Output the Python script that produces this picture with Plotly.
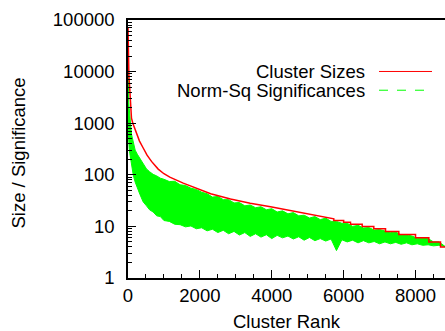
import plotly.graph_objects as go

# ---- data ----
size_rank = [1, 3, 10, 25, 42, 55, 70, 97, 134, 237, 320, 423, 530, 654, 840, 1000,
             1163, 1536, 1859, 2300, 2852, 3400, 3966, 4600, 5356, 5600, 5726,
             5726, 6000, 6000, 6191, 6191, 6516, 6516, 6839, 6839, 7165, 7165,
             7535, 7535, 8000, 8000, 8370, 8370, 8695, 8695, 8834]
cluster_sizes = [70000, 30000, 14000, 8000, 5500, 3500, 2000, 1250, 1000, 646, 450, 331,
                 240, 182, 129, 105, 90, 69, 57, 43, 34, 28, 24, 19.7, 15.6, 14.5, 14,
                 13, 13, 12, 12, 11, 11, 10, 10, 9, 9, 8, 8, 7, 7, 6, 6, 5, 5, 4, 4]

sig_rank = [0, 2, 5, 10, 20, 35, 50, 70, 100, 145, 200, 260, 330, 420, 515, 600, 700,
            800, 900, 1000, 1150, 1300, 1450, 1600, 1750, 1900, 2050, 2200, 2350, 2500,
            2650, 2800, 2950, 3100, 3250, 3400, 3550, 3700, 3850, 4000, 4150, 4300,
            4450, 4600, 4750, 4900, 5050, 5200, 5350, 5500, 5650, 5800, 5950, 6100,
            6250, 6400, 6550, 6700, 6850, 7000, 7150, 7300, 7450, 7600, 7750, 7900,
            8050, 8200, 8350, 8500, 8650, 8800, 8834]
sig_upper = [20000, 9000, 5000, 3500, 2500, 1900, 1580, 1000, 600, 413, 300, 250, 205,
             160, 130, 115, 102, 95, 86, 82, 74, 75, 64, 62, 55, 52, 46, 43, 37, 38, 33,
             33, 28.5, 29, 25, 26, 23, 24, 21, 22, 19, 20, 17.5, 18.5, 16, 16.5, 14.5,
             15.5, 13.5, 14.5, 12.5, 12.5, 11.5, 11.5, 10, 10.5, 9.3, 9.5, 8.5, 8.7, 8,
             7.6, 7.8, 6.8, 6.9, 6.5, 5.9, 5.9, 5.8, 5, 5, 4.2, 4]
sig_lower = [1000, 900, 700, 550, 420, 320, 260, 200, 145, 100, 72, 55, 42, 30, 25, 21,
             19, 16, 15.5, 13, 12.5, 11, 10.8, 9.8, 10.2, 9, 9.4, 8.2, 8.8, 7.6, 8.4,
             7.2, 8, 6.8, 7.6, 6.4, 7.2, 6.2, 6.9, 5.8, 6.7, 6, 6.5, 5.7, 6.3, 5.4, 6.1,
             5.3, 5.8, 5.2, 5.7, 3.4, 5.5, 5, 5.4, 4.8, 5.3, 4.8, 5.1, 4.6, 5, 4.6, 4.9,
             4.5, 4.8, 4.4, 4.6, 4.3, 4.4, 4.2, 4.3, 4.1, 4.0]

x_ticks = [0, 2000, 4000, 6000, 8000]
y_ticks = [1, 10, 100, 1000, 10000, 100000]
y_ticktext = ["1", "10", "100", "1000", "10000", "100000"]

FONT = "Liberation Sans, Arial, Helvetica, sans-serif"
FS = 18.5
GREEN = "#00ff00"
RED = "#ff0000"

fig = go.Figure()

# green band (norm-sq significances): polygon upper edge then lower edge back
fig.add_trace(go.Scatter(
    x=sig_rank + sig_rank[::-1],
    y=sig_upper + sig_lower[::-1],
    fill="toself", fillcolor=GREEN, mode="lines",
    line=dict(color=GREEN, width=1), showlegend=False, hoverinfo="skip"))

fig.add_trace(go.Scatter(
    x=size_rank, y=cluster_sizes, mode="lines",
    line=dict(color=RED, width=1.5), showlegend=False))

fig.update_layout(
    width=445, height=331,
    margin=dict(l=128, r=0, t=20, b=53),
    paper_bgcolor="white", plot_bgcolor="white",
    font=dict(family=FONT, size=FS, color="black"),
    showlegend=False,
)

fig.update_xaxes(
    range=[0, 8820], tickvals=x_ticks, ticks="inside", ticklen=8, tickwidth=1,
    tickcolor="black", showline=True, linecolor="black", linewidth=1.5, mirror=True,
    showgrid=False, zeroline=False, ticklabelstandoff=0,
    minor=dict(ticks="inside", ticklen=4, dtick=500, tickcolor="black", showgrid=False),
)
fig.update_yaxes(
    type="log", range=[0, 5], tickvals=y_ticks, ticktext=y_ticktext,
    ticks="inside", ticklen=8, tickwidth=1, tickcolor="black",
    showline=True, linecolor="black", linewidth=1.5, mirror=False,
    showgrid=False, zeroline=False, ticklabelstandoff=8,
    minor=dict(ticks="inside", ticklen=4, dtick="D1", tickcolor="black", showgrid=False),
)

# axis titles
fig.add_annotation(text="Cluster Rank", xref="paper", yref="paper", x=0.5006, y=-0.1694,
                   xanchor="center", yanchor="middle", showarrow=False,
                   font=dict(family=FONT, size=FS))
fig.add_annotation(text="Size / Significance", xref="paper", yref="paper", x=-0.3454,
                   y=0.4845, xanchor="center", yanchor="middle", textangle=-90,
                   showarrow=False, font=dict(family=FONT, size=FS))

# key (text left of sample, as in the reference)
legend_items = [("Cluster Sizes", RED, "solid", 0.8005),
                ("Norm-Sq Significances", GREEN, "dash", 0.7278)]
for label, color, dash, yk in legend_items:
    fig.add_annotation(text=label, xref="paper", yref="paper", x=0.753, y=yk,
                       xanchor="right", yanchor="middle", showarrow=False,
                       font=dict(family=FONT, size=FS))
    fig.add_shape(type="line", xref="paper", yref="paper", x0=0.7918, x1=0.959,
                  y0=yk, y1=yk, line=dict(color=color, width=1, dash=dash))

fig.write_html("out.html", config={"displayModeBar": False},
               post_script="document.body.style.margin='0';document.body.style.padding='0';")
